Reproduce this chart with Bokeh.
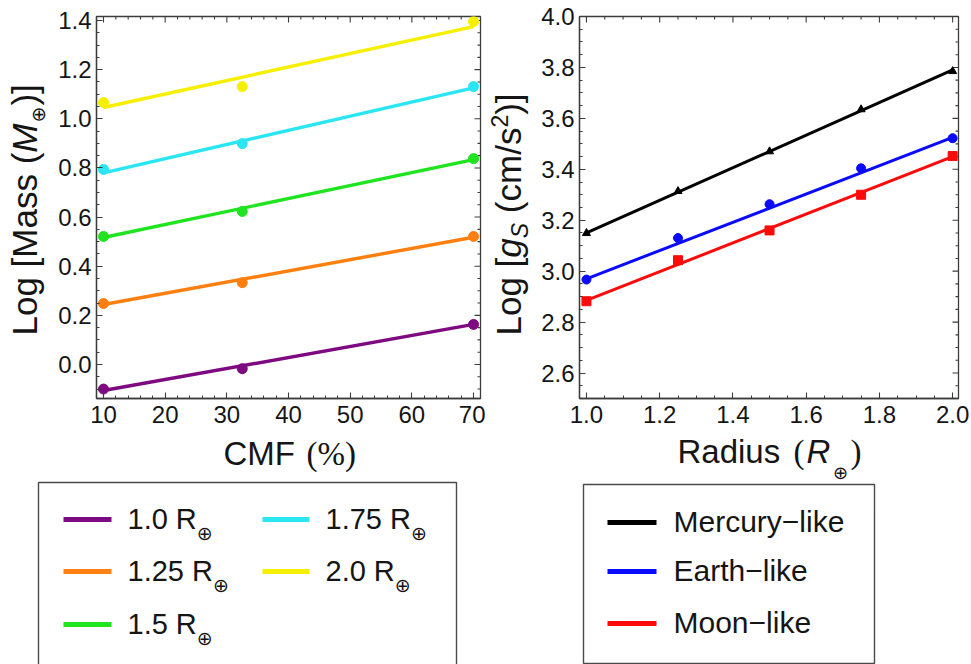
import numpy as np
from bokeh.plotting import figure
from bokeh.models import Range1d, Label, FixedTicker, PrintfTickFormatter
from bokeh.layouts import column, row
from bokeh.embed import file_html
from bokeh.resources import INLINE

# ---------------- data : left panel (log mass vs CMF) ----------------
cmf = [10, 32.5, 70]
radius_names = ["1.0", "1.25", "1.5", "1.75", "2.0"]
logmass_r100 = [-0.100, -0.017, 0.163]
logmass_r125 = [0.248, 0.333, 0.521]
logmass_r150 = [0.521, 0.623, 0.838]
logmass_r175 = [0.794, 0.899, 1.131]
logmass_r200 = [1.066, 1.131, 1.396]
fit_cmf = [10, 70]
fit_r100 = [-0.106, 0.163]
fit_r125 = [0.244, 0.518]
fit_r150 = [0.517, 0.834]
fit_r175 = [0.780, 1.126]
fit_r200 = [1.046, 1.375]
left_colors = ["#7d0a80", "#ff8010", "#1fe41f", "#2ae6f2", "#f6f000"]

# ---------------- data : right panel (log g vs radius) ----------------
radius = [1.0, 1.25, 1.5, 1.75, 2.0]
loggs_mercury = [3.149, 3.314, 3.470, 3.635, 3.785]
loggs_earth = [2.967, 3.130, 3.263, 3.404, 3.522]
loggs_moon = [2.882, 3.043, 3.160, 3.300, 3.452]
fit_radius = [1.0, 2.0]
fit_mercury = [3.150, 3.790]
fit_earth = [2.970, 3.525]
fit_moon = [2.885, 3.450]
comp_names = ["Mercury\u2212like", "Earth\u2212like", "Moon\u2212like"]
right_colors = ["#000000", "#0a0aff", "#ff0a0a"]
right_markers = ["triangle", "circle", "square"]

# ---------------- ticks ----------------
xticks_left = [10, 20, 30, 40, 50, 60, 70]
yticks_left = [0.0, 0.2, 0.4, 0.6, 0.8, 1.0, 1.2, 1.4]
xticks_right = [1.0, 1.2, 1.4, 1.6, 1.8, 2.0]
yticks_right = [2.6, 2.8, 3.0, 3.2, 3.4, 3.6, 3.8, 4.0]

SANS = "Liberation Sans"
SERIF = "Liberation Serif"
SYM = "DejaVu Sans"
INK = "#151515"
FRAME = "#3c3c3c"

TOP_H = 433
FT, FB = 16, 398          # common frame top / bottom (page pixels)
# frame geometry in page pixels, plus data ranges
LF = dict(L=96, R=480, x0=8.865, x1=71.13, y0=-0.1384, y1=1.4163)
RF = dict(L=579, R=958, x0=0.981, x1=2.016, y0=2.5, y1=4.0)

W = {'L': 556, 'o': 556, 'g': 556, ' ': 278, '[': 278, ']': 278, 'M': 833,
     'a': 556, 's': 500, '(': 333, ')': 333, 'c': 500, 'm': 833, '/': 278,
     'S': 667, '2': 556, '\u2295': 838, '1': 556, '.': 278, '0': 556,
     '5': 556, '7': 556, 'R': 722}


def adv(text, size):
    return sum(W.get(c, 556) for c in text) * size / 1000.0


def page_fig(x0, x1, y0, y1, top=0, bottom=0):
    """Blank figure whose frame coordinates are page pixels (y downwards)."""
    f = figure(width=x1 - x0, height=y1 - y0, x_range=Range1d(x0, x1),
               y_range=Range1d(y1 - bottom, y0 + top), output_backend="svg",
               toolbar_location=None, min_border=0,
               min_border_top=top, min_border_bottom=bottom,
               x_axis_location=None, y_axis_location=None)
    f.outline_line_color = None
    f.grid.grid_line_color = None
    f.background_fill_color = "white"
    f.border_fill_color = "white"
    return f


def put(f, x, y, text, size, font=SANS, style="normal", angle=0.0, align="left"):
    f.add_layout(Label(x=x, y=y, text=text, text_font=font,
                       text_font_size=f"{size}px", text_font_style=style,
                       angle=angle, text_align=align, text_baseline="middle",
                       text_color=INK))


def make_panel(page_left, width, fr, xt, yt, xminor, yminor, xfmt, yfmt):
    p = figure(width=width, height=TOP_H,
               x_range=Range1d(fr["x0"], fr["x1"]),
               y_range=Range1d(fr["y0"], fr["y1"]),
               output_backend="svg", toolbar_location=None,
               min_border_left=fr["L"] - page_left,
               min_border_right=page_left + width - fr["R"],
               min_border_top=FT, min_border_bottom=TOP_H - FB)
    p.xgrid.visible = False
    p.ygrid.visible = False
    p.outline_line_color = FRAME
    p.outline_line_width = 1.3
    p.background_fill_color = "white"
    p.border_fill_color = "white"
    p.xaxis.ticker = FixedTicker(ticks=xt, minor_ticks=xminor)
    p.yaxis.ticker = FixedTicker(ticks=yt, minor_ticks=yminor)
    p.xaxis.formatter = PrintfTickFormatter(format=xfmt)
    p.yaxis.formatter = PrintfTickFormatter(format=yfmt)
    for ax in p.axis:
        ax.major_tick_in = 6
        ax.major_tick_out = 0
        ax.minor_tick_in = 3
        ax.minor_tick_out = 0
        ax.axis_line_color = FRAME
        ax.axis_line_width = 1.3
        ax.major_tick_line_color = FRAME
        ax.minor_tick_line_color = FRAME
        ax.major_tick_line_width = 1.1
        ax.minor_tick_line_width = 1.0
        ax.major_label_text_font = SANS
        ax.major_label_text_font_size = "24px"
        ax.major_label_text_color = INK
    p.xaxis.major_label_standoff = 7
    p.yaxis.major_label_standoff = 5
    # mirrored ticks on the top and right edges of the frame
    sx = (fr["x1"] - fr["x0"]) / (fr["R"] - fr["L"])
    sy = (fr["y1"] - fr["y0"]) / (FB - FT)
    for ticks, ln in ((xt, 6), (xminor, 3)):
        tk = [t for t in ticks if fr["x0"] <= t <= fr["x1"]]
        p.segment(x0=tk, y0=[fr["y1"]] * len(tk), x1=tk,
                  y1=[fr["y1"] - ln * sy] * len(tk), line_color=FRAME, line_width=1.1)
    for ticks, ln in ((yt, 6), (yminor, 3)):
        tk = [t for t in ticks if fr["y0"] <= t <= fr["y1"]]
        p.segment(x0=[fr["x1"]] * len(tk), y0=tk, x1=[fr["x1"] - ln * sx] * len(tk),
                  y1=tk, line_color=FRAME, line_width=1.1)
    return p


# ---------------- left panel ----------------
minor_l_x = [float(v) for v in np.arange(10, 71, 2) if v % 10]
minor_l_y = [round(float(v), 3) for v in np.arange(-0.10, 1.45, 0.05)]
minor_l_y = [v for v in minor_l_y if round(v / 0.2, 3) % 1]
p1 = make_panel(50, 435, LF, xticks_left, yticks_left, minor_l_x, minor_l_y, "%d", "%.1f")
left_series = [logmass_r100, logmass_r125, logmass_r150, logmass_r175, logmass_r200]
left_fits = [fit_r100, fit_r125, fit_r150, fit_r175, fit_r200]
for ys, fit, c in zip(left_series, left_fits, left_colors):
    p1.line(fit_cmf, fit, line_color=c, line_width=3.4)
    p1.scatter(cmf, ys, marker="circle", size=10, fill_color=c, line_color=c)

# ---------------- right panel ----------------
minor_r_x = [round(float(v), 3) for v in np.arange(1.0, 2.01, 0.05)]
minor_r_x = [v for v in minor_r_x if round(v / 0.2, 3) % 1]
minor_r_y = [round(float(v), 3) for v in np.arange(2.5, 4.01, 0.05)]
minor_r_y = [v for v in minor_r_y if round(v / 0.2, 3) % 1]
p2 = make_panel(533, 438, RF, xticks_right, yticks_right, minor_r_x, minor_r_y, "%.1f", "%.1f")
right_series = [loggs_mercury, loggs_earth, loggs_moon]
right_fits = [fit_mercury, fit_earth, fit_moon]
right_sizes = [8, 9, 9]
for ys, fit, c, m, s in zip(right_series, right_fits, right_colors, right_markers, right_sizes):
    p2.line(fit_radius, fit, line_color=c, line_width=3)
    p2.scatter(radius, ys, marker=m, size=s, fill_color=c, line_color=c)

# ---------------- y-axis titles (rotated, own strips) ----------------
YT = 35
ROT = np.pi / 2
yt1 = page_fig(0, 50, 0, TOP_H, top=FT, bottom=TOP_H - FB)
xc, pos = 24, 335
put(yt1, xc, pos, "Log [Mass (", YT, angle=ROT)
pos -= adv("Log [Mass (", YT)
put(yt1, xc, pos, "M", YT, style="italic", angle=ROT)
pos -= adv("M", YT) + 1
put(yt1, xc + 13, pos, "\u2295", 19, font=SYM, angle=ROT)
pos -= adv("\u2295", 19) + 1
put(yt1, xc, pos, ")]", YT, angle=ROT)

yt2 = page_fig(485, 533, 0, TOP_H, top=FT, bottom=TOP_H - FB)
xc, pos = 508, 335
put(yt2, xc, pos, "Log [", YT, angle=ROT)
pos -= adv("Log [", YT)
put(yt2, xc, pos, "g", YT, style="italic", angle=ROT)
pos -= adv("g", YT)
put(yt2, xc + 11, pos, "S", 23, style="italic", angle=ROT)
pos -= adv("S", 23) + adv(" ", YT)
put(yt2, xc, pos, "(cm/s", YT, angle=ROT)
pos -= adv("(cm/s", YT)
put(yt2, xc - 9, pos, "2", 23, angle=ROT)
pos -= adv("2", 23)
put(yt2, xc, pos, ")]", YT, angle=ROT)

# ---------------- bottom strip: x titles and legends ----------------
bot = page_fig(0, 971, TOP_H, 664)
XT = 33
put(bot, 223, 453, "CMF", XT)
put(bot, 306, 453, "(%)", XT, font=SERIF)
put(bot, 677, 451, "Radius", XT)
put(bot, 793, 451, "(", XT, font=SERIF)
put(bot, 806, 451, "R", XT, style="italic")
put(bot, 840, 472, "\u2295", 18, font=SYM, align="center")
put(bot, 850, 451, ")", XT, font=SERIF)

# legend boxes
bot.quad(left=[38, 583], right=[456, 874], top=[482, 484], bottom=[680, 663],
         fill_color=None, line_color="#4a4a4a", line_width=1.4)

# left legend: two columns
lcol_line = [(63, 111), (262, 309)]
lcol_text = [127, 325]
lrow_y = [519, 571, 624]
LEG_FS = 29
for i, (name, c) in enumerate(zip(radius_names, left_colors)):
    col, r = (0, i) if i < 3 else (1, i - 3)
    y = lrow_y[r]
    bot.segment(x0=[lcol_line[col][0]], y0=[y], x1=[lcol_line[col][1]], y1=[y],
                line_color=c, line_width=5)
    txt = f"{name} R"
    put(bot, lcol_text[col], y - 1, txt, LEG_FS)
    put(bot, lcol_text[col] + adv(txt, LEG_FS) + 8, y + 13, "\u2295", 19,
        font=SYM, align="center")

# right legend
rrow_y = [522, 571, 623]
for name, c, y in zip(comp_names, right_colors, rrow_y):
    bot.segment(x0=[607], y0=[y], x1=[656], y1=[y], line_color=c, line_width=5)
    put(bot, 673, y - 1, name, 30)

layout = column(row(yt1, p1, yt2, p2), bot)
open("out.html", "w").write(file_html(layout, INLINE))
